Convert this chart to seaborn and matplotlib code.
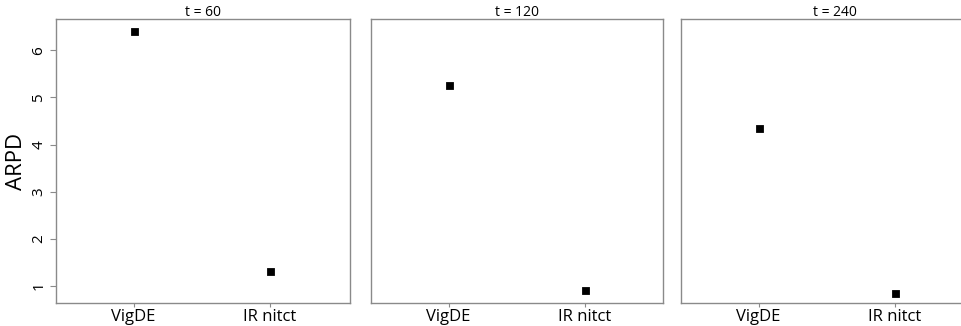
import matplotlib
matplotlib.use("Agg")
import matplotlib.pyplot as plt
import seaborn as sns
import pandas as pd

# ARPD per method at three time budgets
methods = ["VigDE", "IR nitct"]
times = [60, 120, 240]
arpd_vigde = [6.41, 5.27, 4.35]
arpd_irnitct = [1.32, 0.91, 0.86]

rows = []
for t, v, r in zip(times, arpd_vigde, arpd_irnitct):
    rows.append({"t": t, "method": methods[0], "ARPD": v})
    rows.append({"t": t, "method": methods[1], "ARPD": r})
df = pd.DataFrame(rows)

sns.set_style("white")
plt.rcParams["font.family"] = ["Open Sans", "DejaVu Sans"]
plt.rcParams["text.color"] = "black"
plt.rcParams["xtick.color"] = "black"
plt.rcParams["ytick.color"] = "black"
plt.rcParams["axes.labelcolor"] = "black"

fig = plt.figure(figsize=(9.61, 3.26), dpi=100)
lefts = [0.0583, 0.386, 0.7086]
widths = [0.306, 0.304, 0.32]
bottom, height = 0.0706, 0.871

spine_col = "#8a8a8a"
for i, t in enumerate(times):
    ax = fig.add_axes([lefts[i], bottom, widths[i], height])
    sub = df[df["t"] == t]
    sns.pointplot(data=sub, x="method", y="ARPD", order=methods,
                  linestyle="none", marker="s", markersize=3.6,
                  color="black", errorbar=None, ax=ax)
    span = 2.16 * widths[i] / 0.306
    ax.set_xlim(-0.57, -0.57 + span)
    ax.set_ylim(0.64, 6.66)
    ax.set_title(f"t = {t}", fontsize=10, pad=2, color="black")
    ax.set_xlabel("")
    for s in ax.spines.values():
        s.set_color(spine_col)
        s.set_linewidth(1.0)
        s.set_visible(True)
    ax.tick_params(axis="x", length=3, color=spine_col, labelcolor="black",
                   labelsize=12, pad=1, bottom=True)
    if i == 0:
        ax.set_ylabel("ARPD", fontsize=16, labelpad=3, color="black")
        ax.set_yticks([1, 2, 3, 4, 5, 6])
        ax.tick_params(axis="y", length=4, color=spine_col, labelcolor="black",
                       labelsize=11, left=True, pad=3)
        for lab in ax.get_yticklabels():
            lab.set_rotation(90)
            lab.set_va("center")
    else:
        ax.set_ylabel("")
        ax.set_yticks([])

fig.savefig("out.png", dpi=100)
